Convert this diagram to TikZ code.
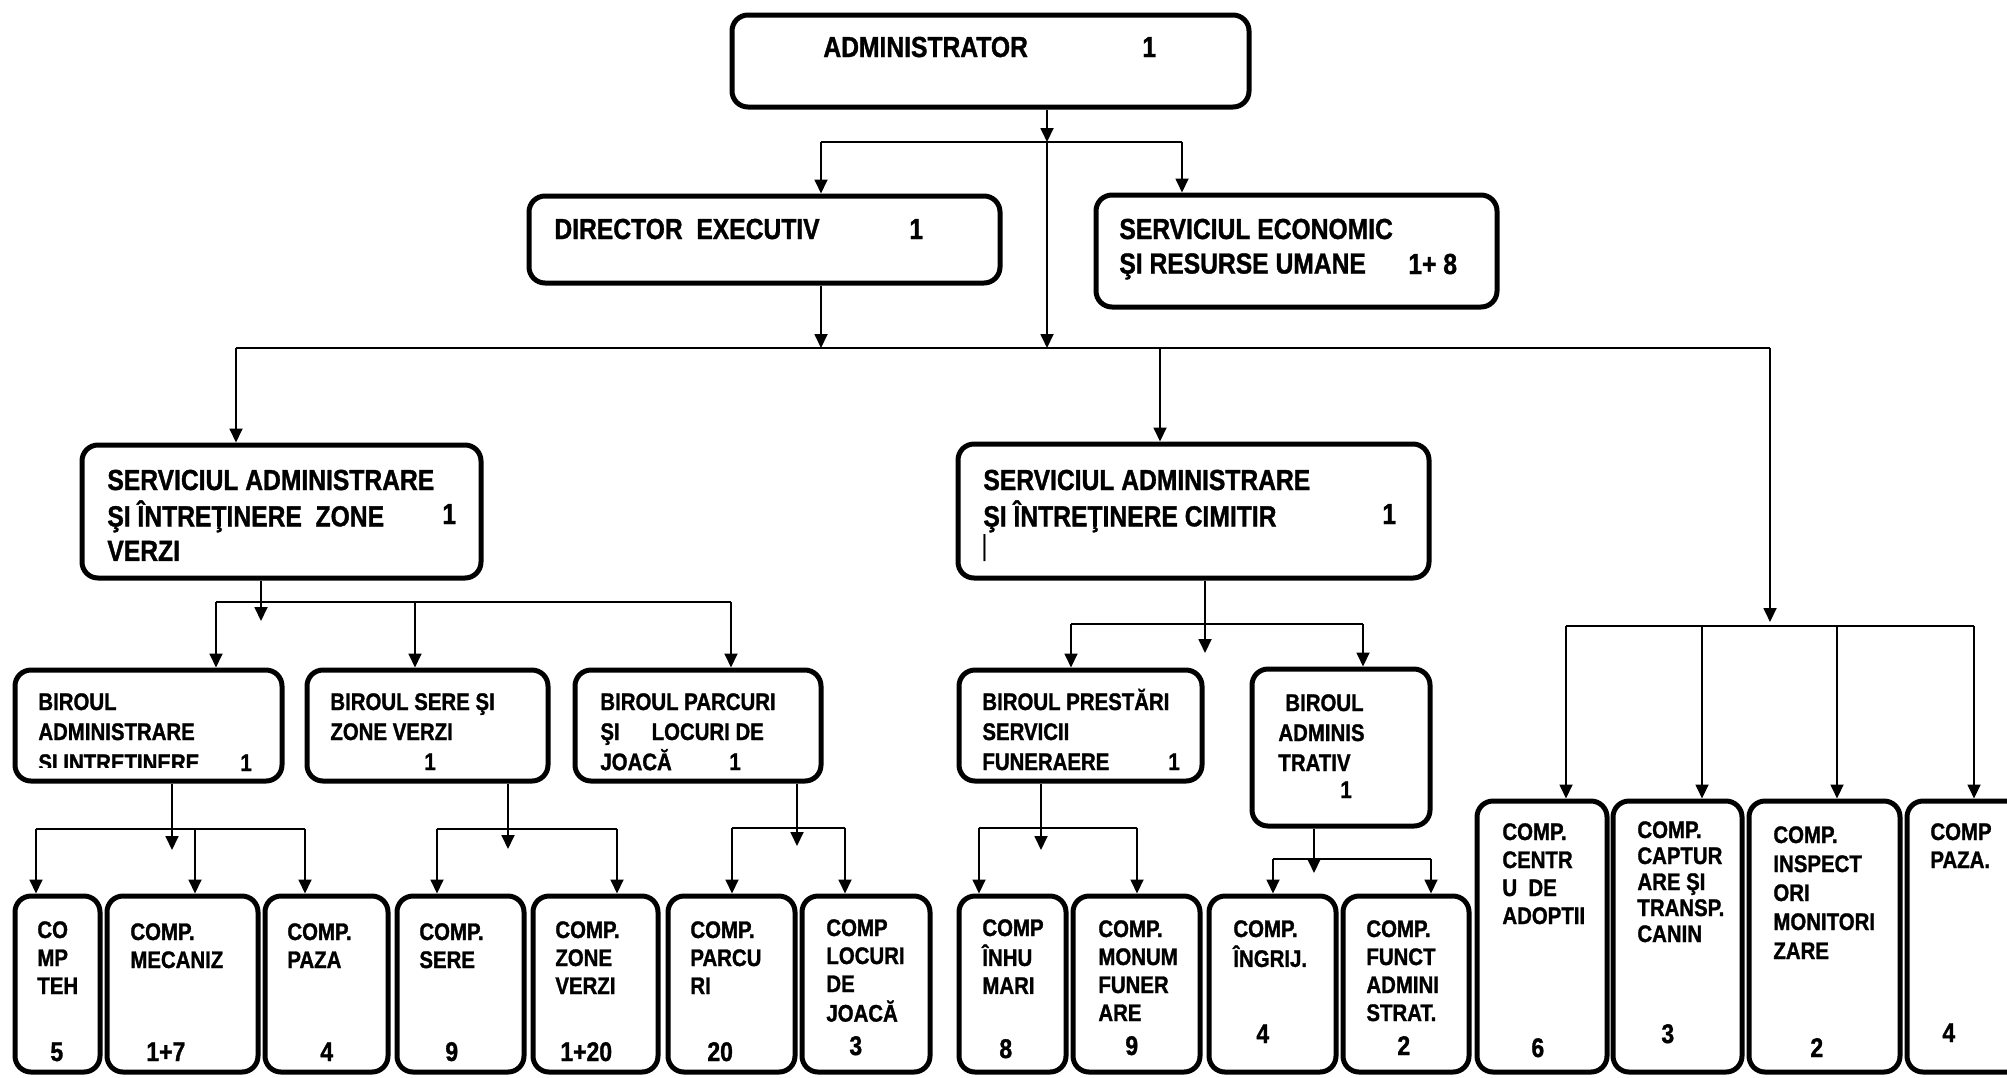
\documentclass[tikz,border=0pt]{standalone}
\usepackage{fontspec}
\setmainfont{Liberation Sans}
\newfontfamily\orgfont{Liberation Sans}[FakeStretch=0.85,BoldFeatures={FakeBold=1.2}]
\usepackage{tikz}
\usetikzlibrary{positioning,fit,calc}
\usetikzlibrary{arrows.meta}

\newcommand{\boxlines}[1]{\begin{tabular}[t]{@{}l@{}}#1\end{tabular}}

\begin{document}
\begin{tikzpicture}[x=0.5pt,y=-0.5pt]
	\tikzset{
		unit/.style={draw,line width=2.5pt,rounded corners=8pt,inner sep=0pt},
		headtxt/.style={anchor=base west,inner sep=0pt,font=\fontsize{14.5}{17.25}\orgfont\bfseries},
		birtxt/.style={headtxt,font=\fontsize{12}{15}\orgfont\bfseries},
		comptxt/.style={headtxt,font=\fontsize{12}{14}\orgfont\bfseries},
		compnum/.style={headtxt,font=\fontsize{13.5}{14}\orgfont\bfseries},
		link/.style={line width=0.9pt},
		arr/.style={link,-{Triangle[length=7pt,width=6.5pt]}},
	}
	\useasboundingbox (0,0) rectangle (2007,1077);

	% conducere
	\node[unit,fit={(732,15) (1249,107)}] (adm) {};
	\node[unit,fit={(529,196) (1000,283)}] (dir) {};
	\node[unit,fit={(1096,195) (1497,307)}] (eco) {};
	\node[unit,fit={(82,445) (481,578)}] (szv) {};
	\node[unit,fit={(958,444) (1429,578)}] (scim) {};

	% birouri
	\node[unit,fit={(15,670) (282,781)}] (bad) {};
	\node[unit,fit={(307,670) (548,781)}] (bsz) {};
	\node[unit,fit={(575,670) (821,781)}] (bpl) {};
	\node[unit,fit={(959,670) (1202,781)}] (bpf) {};
	\node[unit,fit={(1252,669) (1430,826)}] (bat) {};

	% compartimente
	\node[unit,fit={(15,896) (100,1072)}] (c1) {};
	\node[unit,fit={(107,896) (258,1072)}] (c2) {};
	\node[unit,fit={(265,896) (388,1072)}] (c3) {};
	\node[unit,fit={(397,896) (524,1072)}] (c4) {};
	\node[unit,fit={(533,896) (658,1072)}] (c5) {};
	\node[unit,fit={(668,896) (795,1072)}] (c6) {};
	\node[unit,fit={(802,896) (930,1072)}] (c7) {};
	\node[unit,fit={(959,896) (1066,1072)}] (c8) {};
	\node[unit,fit={(1073,896) (1200,1072)}] (c9) {};
	\node[unit,fit={(1209,896) (1336,1072)}] (c10) {};
	\node[unit,fit={(1343,896) (1469,1072)}] (c11) {};
	\node[unit,fit={(1477,801) (1607,1072)}] (c12) {};
	\node[unit,fit={(1613,801) (1742,1072)}] (c13) {};
	\node[unit,fit={(1749,801) (1900,1072)}] (c14) {};
	\node[unit,fit={(1907,801) (2040,1072)}] (c15) {};

	% texte
	\node[headtxt] (adm-t) at (823,57) {ADMINISTRATOR};
	\node[headtxt] (adm-n) at (1142,57) {1};
	\node[headtxt] (dir-t) at (554,239) {DIRECTOR\ \ EXECUTIV};
	\node[headtxt] (dir-n) at (909,239) {1};
	\node[headtxt] (eco-t) at (1119,239) {\boxlines{SERVICIUL ECONOMIC\\ŞI RESURSE UMANE}};
	\node[headtxt] (eco-n) at (1408,274) {1+ 8};
	\node[headtxt] (szv-t) at (107,490) {\boxlines{SERVICIUL ADMINISTRARE\\ŞI ÎNTREŢINERE\ \ ZONE\\VERZI}};
	\node[headtxt] (szv-n) at (442,524) {1};
	\node[headtxt] (scim-t) at (983,490) {\boxlines{SERVICIUL ADMINISTRARE\\ŞI ÎNTREŢINERE CIMITIR}};
	\node[headtxt,font=\fontsize{14.5}{17.25}\orgfont] (scim-bar) at (981,555) {|};
	\node[headtxt] (scim-n) at (1382,524) {1};

	\node[birtxt] (bad-t) at (38,710) {\boxlines{BIROUL\\ADMINISTRARE}};
	\begin{scope}
		\clip (15,700) rectangle (282,767);
		\node[birtxt] (bad-t3) at (38,771) {SI INTRETINERE};
	\end{scope}
	\node[birtxt] (bad-n) at (240,771) {1};
	\node[birtxt] (bsz-t) at (330,710) {\boxlines{BIROUL SERE ŞI\\ZONE VERZI}};
	\node[birtxt] (bsz-n) at (424,770) {1};
	\node[birtxt] (bpl-t) at (600,710) {\boxlines{BIROUL PARCURI\\ŞI\hspace{16pt}LOCURI DE\\JOACĂ}};
	\node[birtxt] (bpl-n) at (729,770) {1};
	\node[birtxt] (bpf-t) at (982,710) {\boxlines{BIROUL PRESTĂRI\\SERVICII\\FUNERAERE}};
	\node[birtxt] (bpf-n) at (1168,770) {1};
	\node[birtxt] (bat-t) at (1278,711) {\boxlines{\hspace{3.5pt}BIROUL\\ADMINIS\\TRATIV}};
	\node[birtxt] (bat-n) at (1340,798) {1};

	\node[comptxt] (c1-t) at (37,938) {\boxlines{CO\\MP\\TEH}};
	\node[compnum] (c1-n) at (50,1061) {5};
	\node[comptxt] (c2-t) at (130,940) {\boxlines{COMP.\\MECANIZ}};
	\node[compnum] (c2-n) at (146,1061) {1+7};
	\node[comptxt] (c3-t) at (287,940) {\boxlines{COMP.\\PAZA}};
	\node[compnum] (c3-n) at (320,1061) {4};
	\node[comptxt] (c4-t) at (419,940) {\boxlines{COMP.\\SERE}};
	\node[compnum] (c4-n) at (445,1061) {9};
	\node[comptxt] (c5-t) at (555,938) {\boxlines{COMP.\\ZONE\\VERZI}};
	\node[compnum] (c5-n) at (560,1061) {1+20};
	\node[comptxt] (c6-t) at (690,938) {\boxlines{COMP.\\PARCU\\RI}};
	\node[compnum] (c6-n) at (707,1061) {20};
	\node[comptxt] (c7-t) at (826,936) {\boxlines{COMP\\LOCURI\\DE\\JOACĂ}};
	\node[compnum] (c7-n) at (849,1055) {3};
	\node[comptxt] (c8-t) at (982,936) {\boxlines{COMP\\ÎNHU\\MARI}};
	\node[compnum] (c8-n) at (999,1058) {8};
	\node[comptxt] (c9-t) at (1098,937) {\boxlines{COMP.\\MONUM\\FUNER\\ARE}};
	\node[compnum] (c9-n) at (1125,1055) {9};
	\node[comptxt] (c10-t) at (1233,937) {\boxlines{COMP.\\ÎNGRIJ.}};
	\node[compnum] (c10-n) at (1256,1043) {4};
	\node[comptxt] (c11-t) at (1366,937) {\boxlines{COMP.\\FUNCT\\ADMINI\\STRAT.}};
	\node[compnum] (c11-n) at (1397,1055) {2};
	\node[comptxt] (c12-t) at (1502,840) {\boxlines{COMP.\\CENTR\\U\ \ DE\\ADOPTII}};
	\node[compnum] (c12-n) at (1531,1057) {6};
	\node[comptxt,font=\fontsize{12}{13}\orgfont\bfseries] (c13-t) at (1637,838) {\boxlines{COMP.\\CAPTUR\\ARE ŞI\\TRANSP.\\CANIN}};
	\node[compnum] (c13-n) at (1661,1043) {3};
	\node[comptxt,font=\fontsize{12}{14.5}\orgfont\bfseries] (c14-t) at (1773,843) {\boxlines{COMP.\\INSPECT\\ORI\\MONITORI\\ZARE}};
	\node[compnum] (c14-n) at (1810,1057) {2};
	\node[comptxt] (c15-t) at (1930,840) {\boxlines{COMP\\PAZA.}};
	\node[compnum] (c15-n) at (1942,1042) {4};

	% legaturi
	\coordinate (adm-out) at (1047,142);
	\coordinate (main-in) at (1047,348);
	\draw[arr] (adm.south -| adm-out) -- (adm-out);
	\draw[arr] (adm-out) -- (main-in);
	\coordinate (dir-in) at (821,142);
	\coordinate (eco-in) at (1182,142);
	\draw[link] (dir-in) -- (eco-in);
	\draw[arr] (dir-in) -- (dir-in |- dir.north);
	\draw[arr] (eco-in) -- (eco-in |- eco.north);
	\coordinate (dir-out) at (821,348);
	\draw[arr] (dir.south -| dir-out) -- (dir-out);

	\coordinate (szv-in) at (236,348);
	\coordinate (scim-in) at (1160,348);
	\coordinate (rest-in) at (1770,348);
	\coordinate (rest-out) at (1770,622);
	\draw[link] (szv-in) -- (rest-in);
	\draw[arr] (szv-in) -- (szv-in |- szv.north);
	\draw[arr] (scim-in) -- (scim-in |- scim.north);
	\draw[arr] (rest-in) -- (rest-out);

	\coordinate (szv-out) at (261,621);
	\draw[arr] (szv.south -| szv-out) -- (szv-out);
	\foreach \x/\n in {216/bad,415/bsz,731/bpl}{
		\coordinate (\n-in) at (\x,602);
		\draw[arr] (\n-in) -- (\n-in |- \n.north);
	}
	\draw[link] (bad-in) -- (bpl-in);

	\coordinate (scim-out) at (1205,653);
	\draw[arr] (scim.south -| scim-out) -- (scim-out);
	\foreach \x/\n in {1071/bpf,1363/bat}{
		\coordinate (\n-in) at (\x,624);
		\draw[arr] (\n-in) -- (\n-in |- \n.north);
	}
	\draw[link] (bpf-in) -- (bat-in);

	\coordinate (bad-out) at (172,850);
	\draw[arr] (bad.south -| bad-out) -- (bad-out);
	\foreach \x/\n in {36/c1,195/c2,305/c3}{
		\coordinate (\n-in) at (\x,829);
		\draw[arr] (\n-in) -- (\n-in |- \n.north);
	}
	\draw[link] (c1-in) -- (c3-in);

	\coordinate (bsz-out) at (508,849);
	\draw[arr] (bsz.south -| bsz-out) -- (bsz-out);
	\foreach \x/\n in {437/c4,617/c5}{
		\coordinate (\n-in) at (\x,829);
		\draw[arr] (\n-in) -- (\n-in |- \n.north);
	}
	\draw[link] (c4-in) -- (c5-in);

	\coordinate (bpl-out) at (797,846);
	\draw[arr] (bpl.south -| bpl-out) -- (bpl-out);
	\foreach \x/\n in {732/c6,845/c7}{
		\coordinate (\n-in) at (\x,828);
		\draw[arr] (\n-in) -- (\n-in |- \n.north);
	}
	\draw[link] (c6-in) -- (c7-in);

	\coordinate (bpf-out) at (1041,850);
	\draw[arr] (bpf.south -| bpf-out) -- (bpf-out);
	\foreach \x/\n in {979/c8,1137/c9}{
		\coordinate (\n-in) at (\x,828);
		\draw[arr] (\n-in) -- (\n-in |- \n.north);
	}
	\draw[link] (c8-in) -- (c9-in);

	\coordinate (bat-out) at (1314,873);
	\draw[arr] (bat.south -| bat-out) -- (bat-out);
	\foreach \x/\n in {1273/c10,1431/c11}{
		\coordinate (\n-in) at (\x,859);
		\draw[arr] (\n-in) -- (\n-in |- \n.north);
	}
	\draw[link] (c10-in) -- (c11-in);

	\foreach \x/\n in {1566/c12,1702/c13,1837/c14,1974/c15}{
		\coordinate (\n-in) at (\x,626);
		\draw[arr] (\n-in) -- (\n-in |- \n.north);
	}
	\draw[link] (c12-in) -- (c15-in);
\end{tikzpicture}
\end{document}
